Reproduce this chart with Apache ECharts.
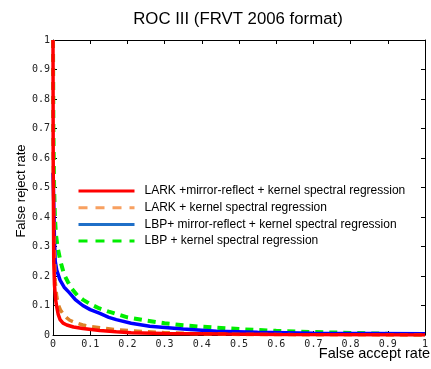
<!DOCTYPE html>
<html><head><meta charset="utf-8">
<script src="https://cdn.jsdelivr.net/npm/echarts@6/dist/echarts.min.js"></script>
<style>html,body{margin:0;padding:0;background:#fff}#c{width:431px;height:369px}</style>
</head><body><div id="c"></div>
<script>
const seriesNames = [
  'LARK +mirror-reflect + kernel spectral regression',
  'LARK + kernel spectral regression',
  'LBP+ mirror-reflect + kernel spectral regression',
  'LBP + kernel spectral regression'
];
const redFAR = [0, 0.0005, 0.002, 0.004, 0.007, 0.01, 0.014, 0.019, 0.027, 0.037, 0.055, 0.08, 0.126, 0.17, 0.21, 0.3, 0.47, 0.6, 0.8, 1.0];
const redFRR = [1.0, 0.6, 0.25, 0.17, 0.12, 0.096, 0.07, 0.052, 0.04, 0.034, 0.027, 0.022, 0.015, 0.011, 0.008, 0.005, 0.003, 0.002, 0.001, 0.0];
const orangeFAR = [0, 0.001, 0.003, 0.006, 0.01, 0.015, 0.02, 0.028, 0.037, 0.045, 0.06, 0.08, 0.1, 0.126, 0.17, 0.21, 0.3, 0.39, 0.5, 0.7, 1.0];
const orangeFRR = [1.0, 0.6, 0.3, 0.18, 0.13, 0.1, 0.085, 0.07, 0.058, 0.05, 0.042, 0.034, 0.029, 0.025, 0.018, 0.014, 0.008, 0.004, 0.002, 0.001, 0.0];
const blueFAR = [0, 0.002, 0.004, 0.006, 0.01, 0.019, 0.03, 0.045, 0.06, 0.08, 0.1, 0.126, 0.15, 0.17, 0.21, 0.26, 0.35, 0.44, 0.55, 0.7, 0.85, 1.0];
const blueFRR = [0.55, 0.45, 0.32, 0.25, 0.22, 0.186, 0.162, 0.142, 0.12, 0.10, 0.086, 0.073, 0.06, 0.052, 0.04, 0.03, 0.02, 0.013, 0.009, 0.006, 0.005, 0.004];
const greenFAR = [0, 0.001, 0.003, 0.005, 0.008, 0.012, 0.02, 0.03, 0.04, 0.05, 0.065, 0.08, 0.1, 0.125, 0.15, 0.2, 0.25, 0.3, 0.35, 0.4, 0.5, 0.6, 0.7, 0.8, 0.9, 1.0];
const greenFRR = [1.0, 0.7, 0.5, 0.4, 0.34, 0.3, 0.25, 0.205, 0.18, 0.158, 0.135, 0.12, 0.105, 0.09, 0.079, 0.06, 0.049, 0.04, 0.033, 0.028, 0.02, 0.014, 0.01, 0.007, 0.004, 0.002];

function pairs(xs, ys){ return xs.map((x,i)=>[x, ys[i]]); }

const chart = echarts.init(document.getElementById('c'));
const tickFont = {fontFamily:'DejaVu Sans Mono', fontSize:10, color:'#222'};
const baseAxis = {
  type:'value', min:0, max:1, interval:0.1,
  axisLine:{show:true, onZero:false, lineStyle:{color:'#000', width:1}},
  axisTick:{show:true, inside:true, length:4, lineStyle:{color:'#000'}},
  splitLine:{show:false}
};
chart.setOption({
  animation:false,
  grid:{left:53, right:4, top:40, bottom:34},
  legend:{
    orient:'vertical', left:77, top:185, padding:0, itemWidth:56, itemHeight:12, itemGap:4.7,
    textStyle:{fontFamily:'Liberation Sans', fontSize:12, color:'#000', padding:[0,0,0,5]},
    data:[
      {name:seriesNames[0], itemStyle:{opacity:0}, lineStyle:{color:'#ff0000', width:3, type:'solid'}},
      {name:seriesNames[1], itemStyle:{opacity:0}, lineStyle:{color:'#f8a060', width:3, type:[9,8]}},
      {name:seriesNames[2], itemStyle:{opacity:0}, lineStyle:{color:'#1f6fc8', width:3, type:'solid'}},
      {name:seriesNames[3], itemStyle:{opacity:0}, lineStyle:{color:'#00ee00', width:3, type:[9,8]}}
    ]
  },
  xAxis:[
    Object.assign({}, baseAxis, {position:'bottom', axisLabel:Object.assign({margin:4}, tickFont)}),
    Object.assign({}, baseAxis, {position:'top', axisLabel:{show:false}})
  ],
  yAxis:[
    Object.assign({}, baseAxis, {position:'left', axisLabel:Object.assign({margin:3}, tickFont)}),
    Object.assign({}, baseAxis, {position:'right', axisLabel:{show:false}})
  ],
  graphic:[
    {type:'text', x:238, y:19, style:{text:'ROC III (FRVT 2006 format)', fontFamily:'Liberation Sans', fontSize:16.8, fill:'#000', align:'center', verticalAlign:'middle'}},
    {type:'text', right:1, top:346, style:{text:'False accept rate', fontFamily:'Liberation Sans', fontSize:14.5, fill:'#000'}},
    {type:'text', x:21, y:191, rotation:Math.PI/2,
      style:{text:'False reject rate', fontFamily:'Liberation Sans', fontSize:13, fill:'#000', align:'center', verticalAlign:'middle'}}
  ],
  series:[
    {name:seriesNames[3], type:'line', data:pairs(greenFAR, greenFRR), symbol:'none', showSymbol:false, z:2,
      lineStyle:{color:'#00ee00', width:4, type:[8,6]}, itemStyle:{color:'#00ee00'}},
    {name:seriesNames[2], type:'line', data:pairs(blueFAR, blueFRR), symbol:'none', showSymbol:false, z:3,
      lineStyle:{color:'#0000ff', width:3.5}, itemStyle:{color:'#0000ff'}},
    {name:seriesNames[1], type:'line', data:pairs(orangeFAR, orangeFRR), symbol:'none', showSymbol:false, z:4,
      lineStyle:{color:'#de8228', width:3.5, type:[8,6]}, itemStyle:{color:'#de8228'}},
    {name:seriesNames[0], type:'line', data:pairs(redFAR, redFRR), symbol:'none', showSymbol:false, z:5,
      lineStyle:{color:'#ff0000', width:3.5}, itemStyle:{color:'#ff0000'}}
  ]
});
</script></body></html>
